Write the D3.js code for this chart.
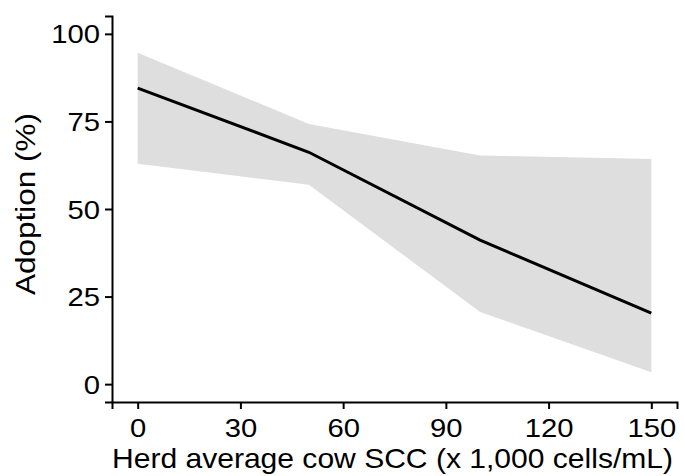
<!DOCTYPE html>
<html>
<head>
<meta charset="utf-8">
<script src="https://cdn.jsdelivr.net/npm/d3@7"></script>
<style>
  body { margin: 0; background: #fff; }
  text { font-family: "Liberation Sans", Arial, sans-serif; fill: #000; }
</style>
</head>
<body>
<script>
var width = 685;
var height = 476;

// data
var scc = [0, 50, 100, 150];
var adoption = [84.5, 66.2, 41.1, 20.3];
var upper = [94.6, 74.3, 65.3, 64.3];
var lower = [62.9, 56.9, 20.6, 3.4];
var xTicks = [0, 30, 60, 90, 120, 150];
var yTicks = [0, 25, 50, 75, 100];

var rows = scc.map(function(d, i) {
  return {x: d, y: adoption[i], lo: lower[i], hi: upper[i]};
});

var margin = {left: 112, right: 8, top: 16, bottom: 74};
var stretch = 1.17;

var svg = d3.select('body').append('svg')
  .attr('width', width)
  .attr('height', height);

var x = d3.scaleLinear().domain([-7.5, 157.5])
  .range([margin.left, width - margin.right]);
var y = d3.scaleLinear().domain([-5.1, 105.1])
  .range([height - margin.bottom, margin.top]);

// confidence ribbon
svg.append('path')
  .datum(rows)
  .attr('fill', '#dedede')
  .attr('d', d3.area()
    .x(function(d) { return x(d.x); })
    .y0(function(d) { return y(d.lo); })
    .y1(function(d) { return y(d.hi); }));

// fitted line
svg.append('path')
  .datum(rows)
  .attr('fill', 'none')
  .attr('stroke', '#000')
  .attr('stroke-width', 3)
  .attr('d', d3.line()
    .x(function(d) { return x(d.x); })
    .y(function(d) { return y(d.y); }));

// axes
var xAxis = svg.append('g')
  .attr('transform', 'translate(0,' + (height - margin.bottom) + ')')
  .call(d3.axisBottom(x).tickValues(xTicks).tickSize(7).tickPadding(6));

var yAxis = svg.append('g')
  .attr('transform', 'translate(' + margin.left + ',0)')
  .call(d3.axisLeft(y).tickValues(yTicks).tickSize(7).tickPadding(5));

[xAxis, yAxis].forEach(function(g) {
  g.select('.domain').attr('stroke', '#000').attr('stroke-width', 2);
  g.selectAll('.tick line').attr('stroke', '#000').attr('stroke-width', 2);
  g.selectAll('.tick text').style('font-size', '25px').attr('fill', '#000');
});

// labels in the picture are a little wide, so stretch them horizontally
xAxis.selectAll('.tick text')
  .attr('y', null).attr('dy', null)
  .attr('transform', 'translate(0,35) scale(' + stretch + ',1)');
yAxis.selectAll('.tick text')
  .attr('x', null).attr('dy', '0.36em')
  .attr('transform', 'translate(-12,0) scale(' + stretch + ',1)');

// axis titles
svg.append('text')
  .attr('x', 112)
  .attr('y', 468)
  .attr('textLength', 561)
  .attr('lengthAdjust', 'spacingAndGlyphs')
  .style('font-size', '28px')
  .text('Herd average cow SCC (x 1,000 cells/mL)');

svg.append('text')
  .attr('transform', 'translate(35,295) rotate(-90)')
  .attr('textLength', 182)
  .attr('lengthAdjust', 'spacingAndGlyphs')
  .style('font-size', '28px')
  .text('Adoption (%)');
</script>
</body>
</html>
